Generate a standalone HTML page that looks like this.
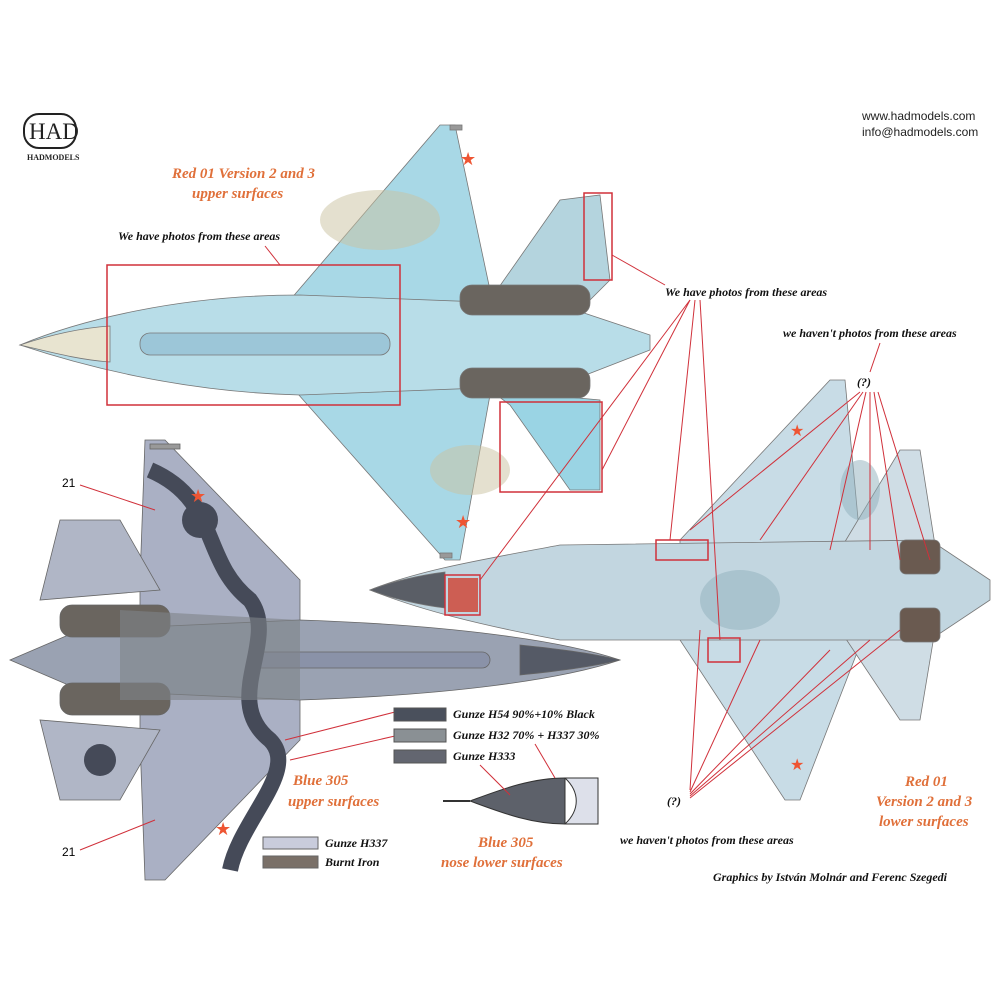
<!DOCTYPE html>
<html><head><meta charset="utf-8"><style>
body{margin:0;background:#fff}
svg{display:block}
.t{font-family:"Liberation Serif",serif;font-style:italic;font-weight:bold}
.o{fill:#e0703a;font-size:15px}
.k{fill:#111;font-size:12px}
</style></head><body>
<svg width="1000" height="1000" viewBox="0 0 1000 1000" xmlns="http://www.w3.org/2000/svg">
<rect width="1000" height="1000" fill="#fff"/>
<!-- logo -->
<text x="29" y="139" font-family="Liberation Serif,serif" font-size="23" fill="#222">HAD</text>
<rect x="24" y="114" width="52" height="34" rx="15" fill="none" stroke="#222" stroke-width="2"/>
<text x="27" y="160" font-family="Liberation Serif,serif" font-size="8" font-weight="bold" fill="#222">HADMODELS</text>
<text x="862" y="120" font-family="Liberation Sans,sans-serif" font-size="12" fill="#222">www.hadmodels.com</text>
<text x="862" y="136" font-family="Liberation Sans,sans-serif" font-size="12" fill="#222">info@hadmodels.com</text>

<!-- Aircraft 1 (top) -->
<g stroke="#777" stroke-width="0.8">
<polygon points="290,300 440,125 455,125 490,290 560,300 560,390 490,395 460,560 445,560 290,385" fill="#a8d8e6"/>
<polygon points="490,300 560,200 600,195 610,280 590,300" fill="#b4d4de"/>
<polygon points="490,390 600,400 600,490 570,490 510,405" fill="#9ad4e4"/>
<path d="M20,345 C80,320 180,295 300,295 L560,305 L650,335 L650,350 L560,385 L300,395 C180,392 80,365 20,345 Z" fill="#b8dde8"/>
<path d="M20,345 C50,335 80,328 110,326 L110,362 C80,360 50,352 20,345Z" fill="#e8e4d0"/>
<rect x="460" y="285" width="130" height="30" rx="12" fill="#6a655f"/>
<rect x="460" y="368" width="130" height="30" rx="12" fill="#6a655f"/>
<rect x="140" y="333" width="250" height="22" rx="10" fill="#9cc6d8"/>
<rect x="450" y="125" width="12" height="5" fill="#999"/>
<rect x="440" y="553" width="12" height="5" fill="#999"/>
</g>
<ellipse cx="380" cy="220" rx="60" ry="30" fill="#c9c2a0" opacity=".5"/>
<ellipse cx="470" cy="470" rx="40" ry="25" fill="#c9c2a0" opacity=".5"/>
<text x="460" y="165" font-size="18" fill="#e53">★</text>
<text x="455" y="528" font-size="18" fill="#e53">★</text>
<rect x="107" y="265" width="293" height="140" fill="none" stroke="#d0303a" stroke-width="1.5"/>
<rect x="584" y="193" width="28" height="87" fill="none" stroke="#d0303a" stroke-width="1.5"/>
<rect x="500" y="402" width="102" height="90" fill="none" stroke="#d0303a" stroke-width="1.5"/>
<text class="t o" x="172" y="178">Red 01 Version 2 and 3</text>
<text class="t o" x="192" y="198">upper surfaces</text>
<text class="t k" x="118" y="240">We have photos from these areas</text>
<line x1="265" y1="246" x2="280" y2="265" stroke="#d0303a"/>

<!-- Aircraft 2 (bottom-left) -->
<g stroke="#666" stroke-width="0.8">
<polygon points="145,440 165,440 300,580 300,740 165,880 145,880 140,740 140,580" fill="#aab0c4"/>
<polygon points="60,520 120,520 160,590 40,600" fill="#b0b6c6"/>
<polygon points="60,800 120,800 160,730 40,720" fill="#b0b6c6"/>
<path d="M10,660 L80,630 L300,620 C450,625 560,640 620,660 C560,680 450,695 300,700 L80,690 Z" fill="#9aa2b2"/>
<path d="M520,645 C570,650 600,655 620,660 C600,665 570,670 520,675Z" fill="#555a66"/>
<rect x="60" y="605" width="110" height="32" rx="12" fill="#6a655f"/>
<rect x="60" y="683" width="110" height="32" rx="12" fill="#6a655f"/>
<rect x="250" y="652" width="240" height="16" rx="8" fill="#8a92a8"/>
<rect x="150" y="444" width="30" height="5" fill="#999"/>
</g>
<path d="M150,470 C220,500 200,560 250,600 C280,640 220,700 270,740 C300,770 240,820 230,870" stroke="#454a58" stroke-width="16" fill="none"/>
<path d="M120,610 L300,620 L300,700 L120,700Z" fill="#7f8488" opacity=".6"/>
<circle cx="200" cy="520" r="18" fill="#454a58"/>
<circle cx="100" cy="760" r="16" fill="#454a58"/>
<text x="190" y="502" font-size="18" fill="#e53">★</text>
<text x="215" y="835" font-size="18" fill="#e53">★</text>
<text x="62" y="487" font-family="Liberation Sans,sans-serif" font-size="12">21</text>
<text x="62" y="856" font-family="Liberation Sans,sans-serif" font-size="12">21</text>
<line x1="80" y1="485" x2="155" y2="510" stroke="#d0303a"/>
<line x1="80" y1="850" x2="155" y2="820" stroke="#d0303a"/>
<line x1="285" y1="740" x2="395" y2="712" stroke="#d0303a"/>
<line x1="290" y1="760" x2="395" y2="736" stroke="#d0303a"/>
<text class="t o" x="293" y="785">Blue 305</text>
<text class="t o" x="288" y="806">upper surfaces</text>
<rect x="263" y="837" width="55" height="12" fill="#c9ccdc" stroke="#666"/>
<text class="t k" x="325" y="847" font-size="10">Gunze H337</text>
<rect x="263" y="856" width="55" height="12" fill="#7a7068" stroke="#666"/>
<text class="t k" x="325" y="866" font-size="10">Burnt Iron</text>

<!-- legend -->
<rect x="394" y="708" width="52" height="13" fill="#4a505c" stroke="#555"/>
<text class="t k" x="453" y="718" font-size="10">Gunze H54 90%+10% Black</text>
<rect x="394" y="729" width="52" height="13" fill="#8a9094" stroke="#555"/>
<text class="t k" x="453" y="739" font-size="10">Gunze H32 70% + H337 30%</text>
<rect x="394" y="750" width="52" height="13" fill="#636670" stroke="#555"/>
<text class="t k" x="453" y="760" font-size="10">Gunze H333</text>
<line x1="443" y1="801" x2="470" y2="801" stroke="#333" stroke-width="2"/>
<path d="M470,801 C500,790 530,778 565,778 L565,824 C530,824 500,812 470,801Z" fill="#5d616a" stroke="#333"/>
<path d="M565,778 L598,778 L598,824 L565,824 C580,810 580,792 565,778Z" fill="#dde0ea" stroke="#333"/>
<line x1="480" y1="765" x2="510" y2="795" stroke="#d0303a"/>
<line x1="535" y1="744" x2="555" y2="778" stroke="#d0303a"/>
<text class="t o" x="478" y="847">Blue 305</text>
<text class="t o" x="441" y="867">nose lower surfaces</text>

<!-- Aircraft 3 (right) -->
<g stroke="#777" stroke-width="0.8">
<polygon points="680,540 830,380 845,380 860,540 900,545 900,640 860,645 800,800 785,800 680,640" fill="#c8dce6"/>
<polygon points="840,550 900,450 920,450 935,545" fill="#cfdde5"/>
<polygon points="840,630 900,720 920,720 935,630" fill="#cfdde5"/>
<path d="M370,590 C420,570 480,560 560,545 L930,540 L990,580 L990,600 L930,640 L560,640 C480,625 420,610 370,590Z" fill="#c2d6e0"/>
<path d="M370,590 C390,582 420,575 445,572 L445,608 C420,605 390,598 370,590Z" fill="#5a5e66"/>
<rect x="900" y="540" width="40" height="34" rx="6" fill="#6a5a50"/>
<rect x="900" y="608" width="40" height="34" rx="6" fill="#6a5a50"/>
</g>
<path d="M448,578 L478,578 L478,612 L448,612Z" fill="#d04030" opacity=".8"/>
<ellipse cx="740" cy="600" rx="40" ry="30" fill="#8fb0bc" opacity=".5"/>
<ellipse cx="860" cy="490" rx="20" ry="30" fill="#8fb0bc" opacity=".5"/>
<text x="790" y="436" font-size="16" fill="#e53">★</text>
<text x="790" y="770" font-size="16" fill="#e53">★</text>
<rect x="445" y="575" width="35" height="40" fill="none" stroke="#d0303a" stroke-width="1.5"/>
<rect x="656" y="540" width="52" height="20" fill="none" stroke="#d0303a" stroke-width="1.5"/>
<rect x="708" y="638" width="32" height="24" fill="none" stroke="#d0303a" stroke-width="1.5"/>
<text class="t k" x="665" y="296">We have photos from these areas</text>
<g stroke="#d0303a" stroke-width="1">
<line x1="612" y1="255" x2="665" y2="285"/>
<line x1="690" y1="300" x2="602" y2="470"/>
<line x1="690" y1="300" x2="480" y2="580"/>
<line x1="695" y1="300" x2="670" y2="540"/>
<line x1="700" y1="300" x2="720" y2="640"/>
</g>
<text class="t k" x="783" y="337">we haven't photos from these areas</text>
<line x1="880" y1="343" x2="870" y2="372" stroke="#d0303a"/>
<text class="t k" x="857" y="386">(?)</text>
<g stroke="#d0303a">
<line x1="860" y1="392" x2="690" y2="530"/><line x1="863" y1="392" x2="760" y2="540"/>
<line x1="866" y1="392" x2="830" y2="550"/><line x1="870" y1="392" x2="870" y2="550"/>
<line x1="874" y1="392" x2="900" y2="560"/><line x1="878" y1="392" x2="930" y2="560"/>
<line x1="690" y1="790" x2="700" y2="630"/><line x1="690" y1="792" x2="760" y2="640"/>
<line x1="690" y1="794" x2="830" y2="650"/><line x1="690" y1="796" x2="870" y2="640"/>
<line x1="690" y1="798" x2="900" y2="630"/>
</g>
<text class="t k" x="667" y="805">(?)</text>
<text class="t k" x="620" y="844">we haven't photos from these areas</text>
<text class="t o" x="905" y="786">Red 01</text>
<text class="t o" x="876" y="806">Version 2 and 3</text>
<text class="t o" x="879" y="826">lower surfaces</text>
<text class="t k" x="713" y="881">Graphics by István Molnár and Ferenc Szegedi</text>
</svg>
</body></html>
